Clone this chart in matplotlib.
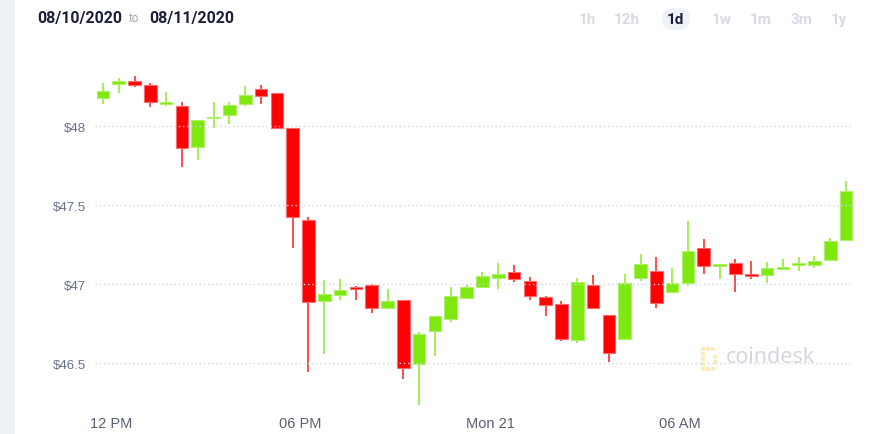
import matplotlib.pyplot as plt
from matplotlib.patches import Rectangle, FancyBboxPatch
from matplotlib import font_manager

# 30-minute candles, hours relative to 12 PM (candle centres)
times = [-0.25 + 0.5 * i for i in range(48)]
opens = [48.175, 48.266, 48.285, 48.258, 48.141, 48.127, 47.865, 48.048, 48.068, 48.141,
         48.232, 48.207, 47.989, 47.405, 46.891, 46.932, 46.970, 46.994, 46.847, 46.897,
         46.492, 46.701, 46.778, 46.913, 46.983, 47.036, 47.076, 47.017, 46.916, 46.872,
         46.647, 46.992, 46.802, 46.650, 47.038, 47.080, 46.947, 47.006, 47.226, 47.114,
         47.131, 47.065, 47.057, 47.095, 47.118, 47.120, 47.154, 47.277]
highs = [48.272, 48.306, 48.316, 48.270, 48.215, 48.154, 48.038, 48.150, 48.150, 48.253,
         48.259, 48.211, 47.989, 47.422, 47.027, 47.032, 46.985, 46.998, 46.968, 46.897,
         46.694, 46.796, 46.983, 46.996, 47.076, 47.133, 47.122, 47.042, 46.922, 46.890,
         47.038, 47.059, 46.802, 47.065, 47.188, 47.168, 47.099, 47.397, 47.285, 47.125,
         47.158, 47.144, 47.141, 47.156, 47.169, 47.175, 47.293, 47.652]
lows = [48.137, 48.209, 48.247, 48.122, 48.128, 47.742, 47.787, 47.989, 48.013, 48.128,
        48.141, 47.989, 47.228, 46.445, 46.557, 46.897, 46.901, 46.815, 46.842, 46.399,
        46.234, 46.542, 46.761, 46.909, 46.975, 46.968, 47.015, 46.901, 46.799, 46.641,
        46.625, 46.846, 46.509, 46.650, 47.021, 46.848, 46.947, 46.985, 47.061, 47.030,
        46.951, 47.032, 47.008, 47.090, 47.080, 47.101, 47.146, 47.277]
closes = [48.223, 48.285, 48.261, 48.150, 48.154, 47.859, 48.038, 48.052, 48.133, 48.196,
          48.190, 47.989, 47.426, 46.884, 46.935, 46.962, 46.966, 46.846, 46.894, 46.470,
          46.686, 46.796, 46.922, 46.981, 47.049, 47.065, 47.030, 46.926, 46.869, 46.652,
          47.011, 46.846, 46.563, 47.006, 47.127, 46.877, 47.006, 47.209, 47.114, 47.125,
          47.061, 47.049, 47.101, 47.100, 47.131, 47.144, 47.270, 47.589]

y_ticks = [46.5, 47, 47.5, 48]
y_labels = ['$46.5', '$47', '$47.5', '$48']
x_ticks = [0, 6, 12, 18]
x_labels = ['12 PM', '06 PM', 'Mon 21', '06 AM']
periods = ['1h', '12h', '1d', '1w', '1m', '3m', '1y']
period_x = [587, 627, 675, 722, 761, 802, 839]

W, H = 871, 435
fig = plt.figure(figsize=(W / 100, H / 100), dpi=100)
fig.patch.set_facecolor('white')
fig.patches.append(Rectangle((0, 0), 15 / W, 1, transform=fig.transFigure,
                             facecolor='#eef2f7', edgecolor='none'))

ax = fig.add_axes([95 / W, 1 - 407 / H, (854 - 95) / W, (407 - 45) / H])

green, red = '#7fe80f', '#ff0000'
colors = [green if c >= o else red for o, c in zip(opens, closes)]
edges = ['#aef06a' if c >= o else '#ff6b6b' for o, c in zip(opens, closes)]
bottoms = [min(o, c) for o, c in zip(opens, closes)]
heights = [max(abs(c - o), 0.012) for o, c in zip(opens, closes)]

ax.vlines(times, lows, highs, colors=colors, linewidth=1.4, alpha=0.7, zorder=2)
ax.bar(times, heights, bottom=bottoms, width=0.4, color=colors, edgecolor=edges,
       linewidth=0.8, zorder=3)

for v in y_ticks:
    ax.axhline(v, color='#d3d6ea', linewidth=1, linestyle=(0, (1, 2)), zorder=4)

ax.set_xlim(-0.5, 23.5)
ax.set_ylim(46.228, 48.519)
for s in ax.spines.values():
    s.set_visible(False)

narrow = ['Liberation Sans Narrow', 'Liberation Sans', 'DejaVu Sans']
ax.set_yticks(y_ticks)
ax.set_yticklabels(y_labels, fontsize=9.5, color='#69718a', family=['Liberation Sans', 'DejaVu Sans'])
ax.set_xticks(x_ticks)
ax.set_xticklabels(x_labels, fontsize=10.5, color='#5b6170', family=narrow)
ax.tick_params(axis='y', length=0, pad=6.5)
ax.tick_params(axis='x', length=0, pad=7)

# header
def px(x, y):
    return x / W, 1 - y / H

fig.text(*px(37, 18), '08/10/2020', fontsize=11.5, fontweight='bold', color='#1b1f3a',
         family=['Roboto', 'DejaVu Sans'], va='center', ha='left')
fig.text(*px(128, 19), 'to', fontsize=8.5, color='#a5a9b8',
         family=['Roboto', 'DejaVu Sans'], va='center', ha='left')
fig.text(*px(149, 18), '08/11/2020', fontsize=11.5, fontweight='bold', color='#1b1f3a',
         family=['Roboto', 'DejaVu Sans'], va='center', ha='left')

pill = FancyBboxPatch(px(662, 31), 28 / W, 22 / H, boxstyle='round,pad=0,rounding_size=0.014',
                      transform=fig.transFigure, facecolor='#eef2f7', edgecolor='none',
                      mutation_aspect=W / H)
fig.patches.append(pill)
for p, x in zip(periods, period_x):
    col = '#1b1f3a' if p == '1d' else '#d9dbe4'
    fig.text(*px(x, 20), p, fontsize=11, fontweight='bold', color=col,
             family=['Roboto', 'DejaVu Sans'], va='center', ha='center')

# watermark
for (lx, ly) in [(701, 348), (706, 348), (711, 348), (701, 353), (701, 358), (701, 363),
                 (701, 368), (706, 368), (711, 368), (713, 356), (713, 361)]:
    fig.patches.append(Rectangle(px(lx, ly + 4), 4 / W, 4 / H, transform=fig.transFigure,
                                 facecolor='#fcebb8', edgecolor='none', zorder=5))
fig.text(*px(726, 358), 'coindesk', fontsize=15.5, color='#d3d5de',
         family=['Open Sans', 'DejaVu Sans'], va='center', ha='left')

plt.savefig('out.png', dpi=100)
